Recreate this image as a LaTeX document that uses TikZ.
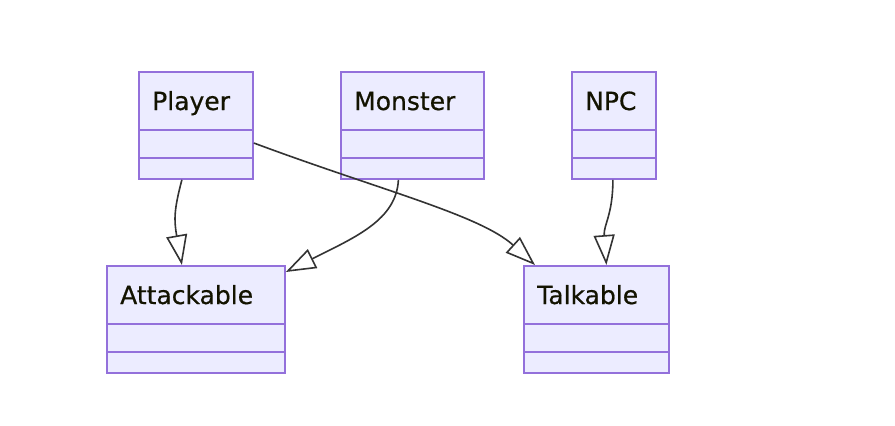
\documentclass[tikz,border=0pt]{standalone}
\usepackage{fontspec}
\setmainfont{DejaVu Sans}
\newfontfamily\titlefont{DejaVu Sans}[FakeBold=0.6]
\usetikzlibrary{arrows.meta}
\definecolor{cfill}{HTML}{ECECFF}
\definecolor{cstroke}{HTML}{9370DB}
\definecolor{cline}{HTML}{333333}
\definecolor{ctext}{HTML}{131300}
\tikzset{
  classbox/.style={draw=cstroke, fill=cfill, line width=1.8pt, anchor=north west, inner sep=0pt},
  divider/.style={draw=cstroke, line width=1.8pt},
  ctitle/.style={anchor=base west, text=ctext, font=\titlefont\fontsize{25}{30}\selectfont, inner sep=0pt},
  inherit/.style={draw=cline, line width=1.6pt, -{Triangle[open, length=30pt, width=21pt, fill=white]}},
}
\newcommand{\umlclass}[6]{% name, x, y, w, h, title
  \node[classbox, minimum width=#4pt, minimum height=#5pt] (#1) at (#2,#3) {};
  \draw[divider] ([yshift=-59pt]#1.north west) -- ([yshift=-59pt]#1.north east);
  \draw[divider] ([yshift=-87pt]#1.north west) -- ([yshift=-87pt]#1.north east);
  \node[ctitle] (#1-t) at ([xshift=14pt,yshift=-39pt]#1.north west) {#6};
}
\begin{document}
\begin{tikzpicture}[x=1pt,y=-1pt]
\useasboundingbox (0,0) rectangle (895,426);
\fill[white] (0,0) rectangle (895,426);
\umlclass{player}{138}{71}{114}{107}{Player}
\umlclass{monster}{340}{71}{143}{107}{Monster}
\umlclass{npc}{571}{71}{84}{107}{NPC}
\umlclass{attackable}{106}{265}{178}{107}{Attackable}
\umlclass{talkable}{523}{265}{145}{107}{Talkable}
\draw[inherit] ([xshift=-14pt]player.south) .. controls +(-8,30) and +(-8,-45) .. ([xshift=-14pt]attackable.north);
\draw[inherit] ([xshift=-14pt]monster.south) .. controls +(-2,40) and +(70,-35) .. ([yshift=-7pt]attackable.north east);
\draw[inherit] ([yshift=-72pt]player.north east) .. controls (380,190) and (480,215) .. ([xshift=12pt]talkable.north west);
\draw[inherit] ([xshift=-1pt]npc.south) .. controls +(0,35) and +(-3,-40) .. ([xshift=10pt]talkable.north);
\end{tikzpicture}
\end{document}
